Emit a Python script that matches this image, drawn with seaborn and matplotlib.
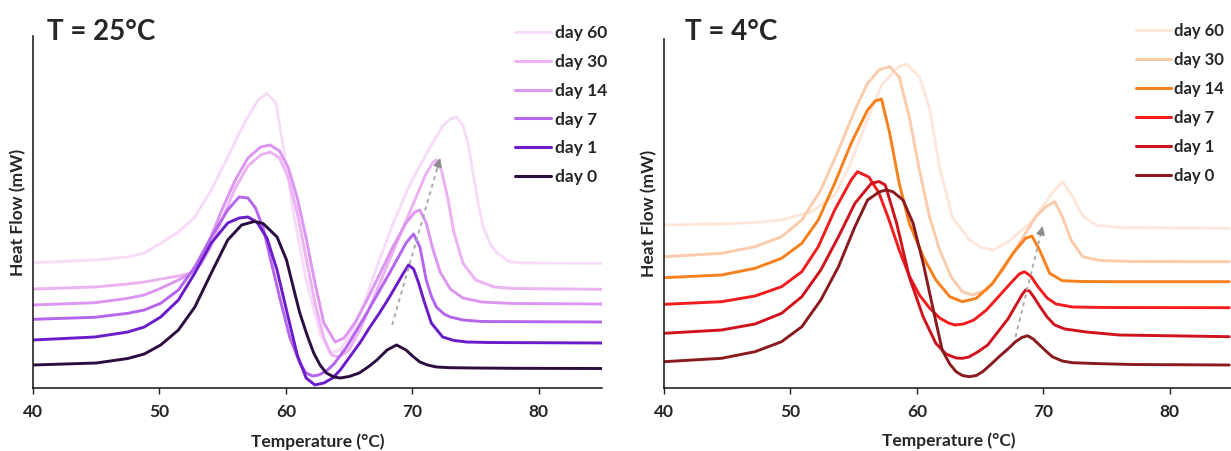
import numpy as np
import pandas as pd
import matplotlib
matplotlib.use("Agg")
import matplotlib.pyplot as plt
from matplotlib.lines import Line2D
import seaborn as sns

# ---------------- data ----------------
DAYS = ["day 60", "day 30", "day 14", "day 7", "day 1", "day 0"]

# T = 25 °C panel
L60_T = [40, 44.9, 47.5, 48.8, 50.1, 51.5, 52.8, 54.1, 55.4, 56.7, 57.8, 58.5, 59.2, 59.8, 60.6, 61.6, 62.7, 63.5, 64.3, 65.2, 66.2, 67.3, 68.5, 69.6, 70.5, 71.5, 72.4, 73, 73.5, 74, 74.4, 74.8, 75.2, 75.6, 76.2, 76.7, 77.7, 79, 85]
L60_H = [125.3, 128, 131, 135, 144.7, 156, 171, 198, 231, 264.7, 288, 294.7, 285, 241, 175, 108, 55, 35, 38, 55, 85, 125, 165, 198, 220, 243, 262, 269, 271, 263, 245, 215, 185, 161, 143, 135, 126, 125, 124.7]
L30_T = [40, 44.9, 47.5, 48.8, 50.1, 51.5, 52.5, 53.3, 54.1, 55, 56, 57, 58, 58.75, 59.5, 60.2, 60.9, 61.6, 62.3, 63, 63.6, 64.2, 65, 66, 67, 68, 69, 70, 71, 71.6, 71.9, 72.3, 72.8, 73.3, 74, 75, 76.5, 78, 85]
L30_H = [99, 101, 104, 106, 109, 112, 115, 124, 142, 170, 200, 222, 233, 236, 230, 210, 175, 130, 85, 50, 33, 31, 38, 62, 92, 122, 152, 182, 212, 225, 228, 218, 190, 155, 125, 108, 101, 99.5, 98.7]
L14_T = [40, 44.9, 47.5, 48.8, 50.1, 51.5, 52.5, 53.3, 54.1, 55, 56, 57, 58, 58.75, 59.5, 60.2, 60.9, 61.6, 62.3, 63, 63.9, 64.6, 65.5, 66.5, 67.5, 68.5, 69.5, 70.2, 70.6, 71.1, 71.6, 72.2, 73, 74, 75.5, 78, 85]
L14_H = [83, 85.3, 89.7, 93, 99.7, 108, 115, 130, 152, 180, 208, 230, 241, 243, 237, 220, 190, 150, 105, 65, 46, 50, 66, 90, 116, 142, 165, 176, 178, 165, 140, 116, 99, 90, 86, 84.5, 84]
L7_T = [40, 44.9, 47.5, 48.8, 50.1, 51.5, 52.8, 54.1, 55.4, 56.3, 57.0, 57.6, 58.2, 58.8, 59.5, 60.3, 61.1, 61.6, 62.1, 62.6, 63.2, 63.8, 64.8, 65.6, 66.4, 67.3, 68.2, 68.9, 69.5, 70.1, 70.6, 71.1, 71.5, 71.9, 72.5, 73, 74, 75.5, 85]
L7_H = [68.7, 70.7, 74.7, 78, 84.7, 98, 121, 151, 178, 191, 190, 180, 160, 128, 91, 51, 25, 15, 12, 13, 17, 24, 41, 58, 75, 95, 115, 131, 145, 154, 141, 108, 92, 81, 74, 71, 68, 66.5, 66]
L1_T = [40, 44.9, 47.5, 48.8, 50.1, 51.5, 52.8, 54.1, 55.4, 56.3, 57.0, 57.7, 58.5, 59.3, 60.1, 60.9, 61.6, 62.3, 63.0, 63.7, 64.3, 65.1, 65.85, 66.6, 67.4, 68.1, 68.75, 69.3, 69.7, 70.1, 70.5, 70.9, 71.5, 72.4, 73.3, 74.3, 76, 85]
L1_H = [48, 51, 56, 61, 71, 88, 115, 145, 165, 170, 171, 166, 150, 118, 75, 33, 10, 3, 5, 10, 18, 32, 45, 60, 75, 89, 103, 115, 123, 119, 105, 88, 65, 51, 47.5, 46, 45.5, 45]
L0_T = [40, 45, 47.5, 48.8, 50.1, 51.5, 52.8, 54.1, 55.4, 56.5, 57.5, 58.2, 59.3, 60.05, 60.6, 61.1, 61.7, 62.2, 62.7, 63.2, 63.8, 64.3, 65, 65.8, 66.5, 67.2, 68, 68.75, 69.5, 70.1, 70.6, 71.2, 71.9, 73, 75, 78, 85]
L0_H = [23, 25, 29.5, 34, 43, 58, 81, 115, 148, 163, 166.5, 164.5, 151, 128, 100, 75, 52, 35, 23, 15, 11, 10, 11.5, 15, 21, 28, 38, 43, 38, 31, 26, 23, 21, 20.3, 20, 19.7, 19.5]

# T = 4 °C panel
R60_T = [40, 44.5, 47.2, 49.3, 51.6, 53.5, 54.7, 56, 57.2, 58.1, 58.5, 59.2, 60.2, 61, 61.8, 62.8, 64.15, 65, 66, 67.2, 68.4, 69.2, 70.5, 71.5, 72.3, 73.1, 74.15, 76, 84.7]
R60_H = [163, 164, 165.5, 168, 176, 192.7, 222.7, 266, 302.7, 315, 321, 324, 311, 280, 220, 171, 148, 141, 138, 146, 159, 168, 192, 206.5, 192, 172, 163, 160.5, 159.7]
R30_T = [40, 44.55, 47.2, 49.3, 50.9, 52.4, 53.8, 55.1, 56.1, 57.0, 57.85, 58.6, 59.4, 60.2, 61, 61.8, 62.7, 63.6, 64.4, 65.5, 66.8, 68.1, 69.4, 70.2, 70.9, 71.5, 72.2, 73.1, 74.5, 77, 84.7]
R30_H = [131.3, 134.7, 141.3, 151.3, 168, 198, 238, 278, 304.7, 318, 321.5, 311, 271, 218, 171, 138, 111.3, 96.3, 93, 98, 118, 144.7, 171.3, 181.3, 186.3, 171.3, 148, 131.3, 127.5, 126.5, 126.3]
R14_T = [40, 44.55, 47.2, 49.3, 50.9, 52.2, 53.5, 54.8, 56.1, 56.7, 57.2, 57.85, 58.6, 59.4, 60.5, 61.5, 62.6, 63.6, 64.7, 66.0, 67.6, 68.6, 69.1, 69.7, 70.5, 71.5, 73, 76, 84.7]
R14_H = [110.3, 113, 119.7, 129.7, 144.7, 168, 204.7, 244.7, 278, 287, 289, 254.7, 204.7, 164.7, 131.3, 108, 91.3, 86.3, 89.7, 104.7, 134.7, 149.7, 152, 138, 114.7, 107.3, 106.5, 106.3, 106.3]
R7_T = [40, 44.55, 47.2, 49.3, 50.9, 52.2, 53.5, 54.8, 55.3, 56.2, 57.0, 57.8, 58.6, 59.4, 60.2, 61, 61.8, 62.5, 63, 63.7, 64.5, 65.5, 66.5, 67.5, 68.1, 68.5, 69.0, 69.6, 70.3, 71, 72.3, 75, 84.7]
R7_H = [83.7, 86.3, 92, 101.3, 116.3, 141.3, 178, 208, 216.3, 211, 195, 168, 138, 112, 93, 80, 70, 65, 63, 64, 68, 78, 92, 106, 114, 116.3, 112, 101, 90, 84, 81, 80.5, 80.3]
R1_T = [40, 44.55, 47.2, 49.3, 50.9, 52.4, 53.8, 55.1, 56.4, 57.0, 57.5, 58.4, 59.4, 60.5, 61.5, 62.3, 63.1, 63.6, 64.1, 64.8, 65.6, 66.4, 67.2, 67.8, 68.3, 68.6, 68.9, 69.3, 69.7, 70.3, 70.9, 71.7, 73.4, 76, 84.7]
R1_H = [54.7, 58, 64, 74.7, 91.3, 118, 151.3, 184.7, 204.7, 206.5, 203, 164.7, 111, 71, 44.7, 34, 30, 29.7, 31, 36, 43, 56, 69, 82, 93, 98, 97, 90, 82, 71, 63, 59, 56, 53, 51.3]
R0_T = [40, 44.55, 47.2, 49.3, 50.9, 52.4, 53.8, 55.1, 56.1, 57.05, 57.6, 58.1, 58.9, 59.7, 60.5, 61.3, 62.0, 62.6, 63.1, 63.6, 64.15, 64.7, 65.2, 65.8, 66.5, 67.2, 67.8, 68.3, 68.75, 69.2, 69.7, 70.2, 70.7, 71.5, 72.3, 74, 77, 84.7]
R0_H = [26.3, 29.7, 36.3, 46.3, 61.3, 88, 121.3, 161.3, 188, 196.3, 198, 196.3, 188, 164.7, 124.7, 78, 38, 24, 16.3, 12.5, 11.3, 12.5, 16.3, 23, 31.3, 39, 46.3, 50.5, 52.3, 49, 43, 37, 31.3, 27, 25.3, 24.5, 23.5, 23]

COLORS_25 = ["#f7dcf9", "#ecb2f4", "#dc96f2", "#b566ec", "#6b1cca", "#2b0d42"]
COLORS_4 = ["#fde7da", "#fccbab", "#f8801c", "#f41c1c", "#cf121b", "#8a1a1e"]

TITLES = ["T = 25°C", "T = 4°C"]
X_TICKS = [40, 50, 60, 70, 80]

# ---------------- assemble ----------------
def long_df(pairs):
    frames = []
    for day, (t, h) in zip(DAYS, pairs):
        frames.append(pd.DataFrame({"T": t, "H": h, "day": day}))
    return pd.concat(frames, ignore_index=True)

df25 = long_df([(L60_T, L60_H), (L30_T, L30_H), (L14_T, L14_H),
                (L7_T, L7_H), (L1_T, L1_H), (L0_T, L0_H)])
df4 = long_df([(R60_T, R60_H), (R30_T, R30_H), (R14_T, R14_H),
               (R7_T, R7_H), (R1_T, R1_H), (R0_T, R0_H)])

sns.set_style("white")
plt.rcParams["font.family"] = ["Lato", "DejaVu Sans"]
plt.rcParams["font.weight"] = "bold"
plt.rcParams["lines.solid_joinstyle"] = "round"
plt.rcParams["lines.solid_capstyle"] = "round"

W, H = 1231, 451
fig = plt.figure(figsize=(W / 100, H / 100), dpi=100)

ax1 = fig.add_axes([33 / W, 1 - 388 / H, 569 / W, 352 / H])
ax2 = fig.add_axes([664 / W, 1 - 388 / H, 569 / W, 349 / H])

panels = [
    (ax1, df25, COLORS_25, (0, 352), ((68.4, 63), (72.2, 230)), (515, 25), -0.011, 0.025, 12.5),
    (ax2, df4, COLORS_4, (0, 349), ((67.8, 51), (69.95, 162)), (1136, 23), -0.012, 0.037, 12.0),
]

for i, (ax, df, cols, ylim, arrow, leg_pos, ylab_x, title_x, leg_fs) in enumerate(panels):
    sns.lineplot(data=df, x="T", y="H", hue="day", hue_order=DAYS,
                 palette=dict(zip(DAYS, cols)), estimator=None, sort=False,
                 linewidth=2.1, legend=False, ax=ax)
    ax.set_xlim(40, 85)
    ax.set_ylim(*ylim)
    ax.set_xticks(X_TICKS)
    ax.set_xticklabels([str(t) for t in X_TICKS], fontsize=12.5, fontweight="bold")
    ax.set_yticks([])
    ax.tick_params(axis="x", direction="out", length=4.5, width=1.0,
                   color="#222222", pad=7, bottom=True)
    for s in ["top", "right"]:
        ax.spines[s].set_visible(False)
    for s in ["left", "bottom"]:
        ax.spines[s].set_color("#111111")
        ax.spines[s].set_linewidth(1.1)
    ax.set_xlabel("Temperature (°C)", fontsize=12.5, fontweight="bold")
    ax.set_ylabel("Heat Flow (mW)", fontsize=12.5, fontweight="bold")
    ax.xaxis.set_label_coords(0.5, -0.128)
    ax.yaxis.set_label_coords(ylab_x, 0.5)
    ax.text(title_x, (388 - 40) / (ylim[1]), TITLES[i], transform=ax.transAxes,
            fontsize=20, fontweight="bold", va="baseline", ha="left")

    # dashed grey arrow
    (x0, y0), (x1, y1) = arrow
    frac = 0.93
    xm, ym = x0 + (x1 - x0) * frac, y0 + (y1 - y0) * frac
    ax.plot([x0, xm], [y0, ym], linestyle=(0, (2.2, 2.2)), color="#a6a6a6", lw=1.3)
    ax.annotate("", xy=(x1, y1), xytext=(xm, ym),
                arrowprops=dict(arrowstyle="-|>", color="#8c8c8c", lw=1.0,
                                mutation_scale=13, shrinkA=0, shrinkB=0))

    handles = [Line2D([0], [0], color=c, lw=2.2) for c in cols]
    ax.legend(handles, DAYS, loc="upper left", frameon=False,
              bbox_to_anchor=(leg_pos[0] / W, 1 - leg_pos[1] / H),
              bbox_transform=fig.transFigure, borderpad=0, borderaxespad=0,
              handlelength=2.1, handletextpad=0.2, labelspacing=0.78 if i else 0.74,
              prop={"size": leg_fs, "weight": "bold"})

fig.savefig("out.png", dpi=100)
